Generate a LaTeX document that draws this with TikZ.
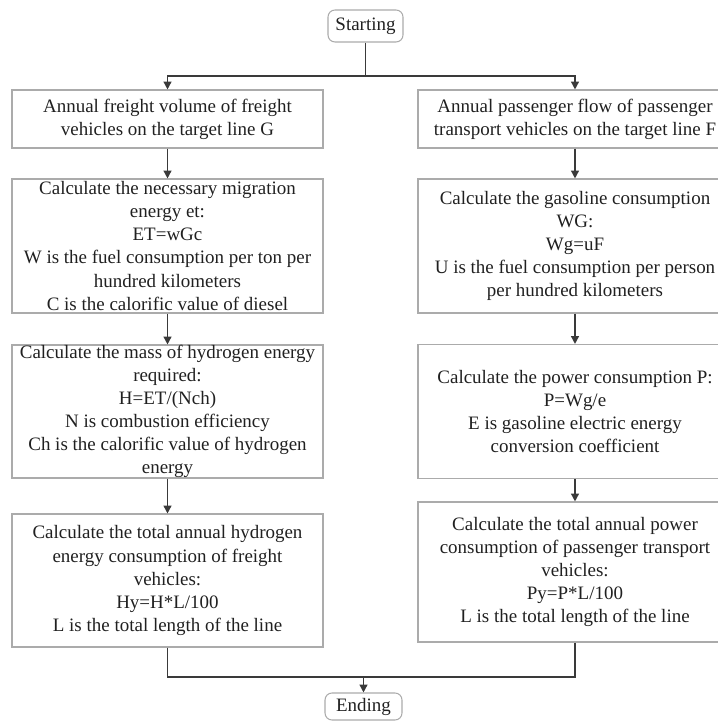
\documentclass[tikz,border=0pt]{standalone}
\usepackage{fontspec}
\setmainfont{Liberation Serif}
\usepackage{xcolor}
\usetikzlibrary{arrows.meta,positioning}
\definecolor{ink}{HTML}{202020}
\definecolor{wire}{HTML}{3A3A3A}
\definecolor{frame}{HTML}{ABABAB}

\begin{document}
\begin{tikzpicture}[
  txt/.style={font=\fontsize{10.8}{13.1}\selectfont,text=ink,align=center},
  box/.style={txt,draw=frame,line width=0.6pt,inner xsep=2pt,inner ysep=0pt},
  term/.style={txt,draw=frame,line width=0.6pt,rounded corners=4pt,inner sep=0pt},
  wireline/.style={wire,line width=0.85pt},
  flow/.style={wireline,-{Triangle[length=4.5pt,width=4.5pt]}}]
  % Page
  \clip(0,0)rectangle(14.36,14.44);
  % Terminals
  \node[term,minimum width=1.5cm,minimum height=0.64cm](start)at(7.31,13.92){Starting};
  \node[term,minimum width=1.54cm,minimum height=0.54cm](end)at(7.27,0.31){Ending};
  % Freight column
  \node[box,minimum width=6.22cm,minimum height=1.16cm](frA)at(3.35,12.06)
    {Annual freight volume of freight\\vehicles on the target line G};
  \node[box,minimum width=6.22cm,minimum height=2.68cm](frB)at(3.35,9.52)
    {Calculate the necessary migration\\energy et:\\ET=wGc\\W is the fuel consumption per ton per\\hundred kilometers\\C is the calorific value of diesel};
  \node[box,minimum width=6.22cm,minimum height=2.66cm](frC)at(3.35,6.21)
    {Calculate the mass of hydrogen energy\\required:\\H=ET/(Nch)\\N is combustion efficiency\\Ch is the calorific value of hydrogen\\energy};
  \node[box,minimum width=6.22cm,minimum height=2.66cm](frD)at(3.35,2.83)
    {Calculate the total annual hydrogen\\energy consumption of freight\\vehicles:\\Hy=H*L/100\\L is the total length of the line};
  % Passenger column
  \node[box,minimum width=6.28cm,minimum height=1.16cm](paA)at(11.5,12.06)
    {Annual passenger flow of passenger\\transport vehicles on the target line F};
  \node[box,minimum width=6.28cm,minimum height=2.68cm](paB)at(11.5,9.52)
    {Calculate the gasoline consumption\\WG:\\Wg=uF\\U is the fuel consumption per person\\per hundred kilometers};
  \node[box,minimum width=6.28cm,minimum height=2.68cm](paC)at(11.5,6.21)
    {Calculate the power consumption P:\\P=Wg/e\\E is gasoline electric energy\\conversion coefficient};
  \node[box,minimum width=6.28cm,minimum height=2.8cm](paD)at(11.5,3.0)
    {Calculate the total annual power\\consumption of passenger transport\\vehicles:\\Py=P*L/100\\L is the total length of the line};
  % Split and merge points
  \coordinate(split)at(start.south|-0,12.92);
  \coordinate(merge)at(end.north|-0,0.9);
  % Connectors
  \draw[wireline](start)--(split);
  \draw[flow](split)-|(frA);
  \draw[flow](split)-|(paA);
  \draw[flow](frA)--(frB);
  \draw[flow](frB)--(frC);
  \draw[flow](frC)--(frD);
  \draw[flow](paA)--(paB);
  \draw[flow](paB)--(paC);
  \draw[flow](paC)--(paD);
  \draw[wireline](frD)|-(merge);
  \draw[wireline](paD)|-(merge);
  \draw[flow](merge)--(end);
\end{tikzpicture}
\end{document}
